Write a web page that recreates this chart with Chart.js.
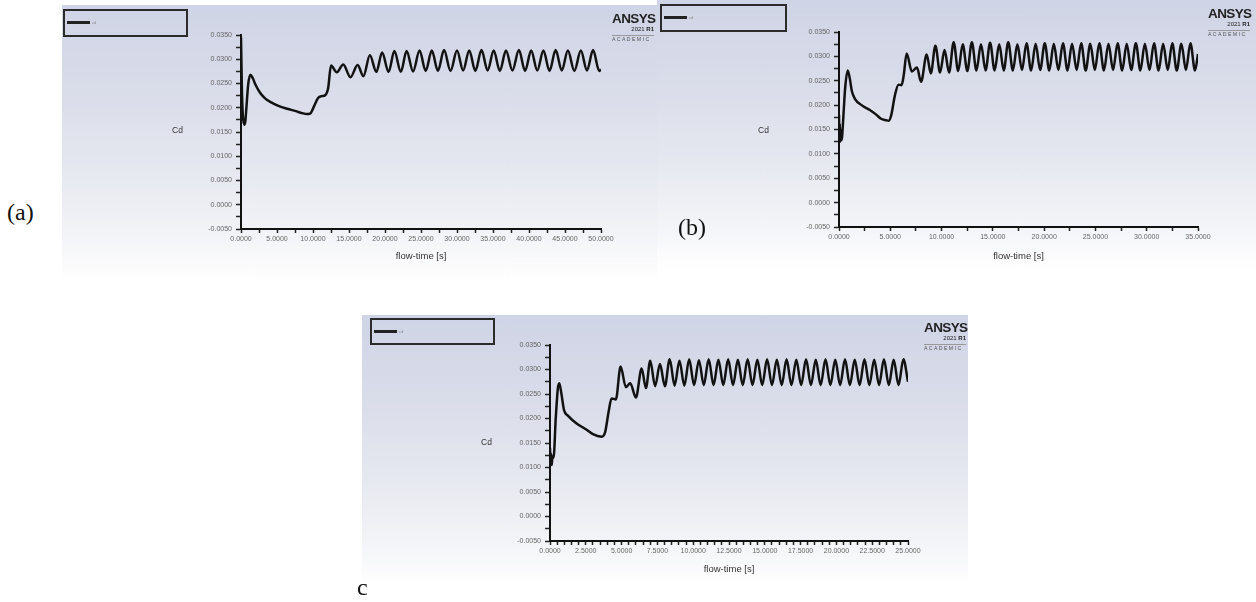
<!DOCTYPE html>
<html>
<head>
<meta charset="utf-8">
<script src="https://cdn.jsdelivr.net/npm/chart.js@4.4.0/dist/chart.umd.min.js"></script>
<style>
body { margin:0; width:1256px; height:602px; background:#fff; position:relative; overflow:hidden; font-family:"Liberation Sans", Arial, sans-serif; }
.panel { position:absolute; background:linear-gradient(to bottom, #cfd4e6 0%, #d9dce9 30%, #e6e8f0 60%, #f4f5f8 85%, #ffffff 100%); }
.panel canvas { position:absolute; left:0; top:0; }
.legend { position:absolute; border:2px solid #2b2b2b; box-sizing:border-box; }
.legend .ln { position:absolute; left:2px; top:10px; width:23px; height:3px; background:#222; }
.legend .tx { position:absolute; left:27px; top:9px; font-size:4px; color:#888; }
.logo { position:absolute; width:42px; text-align:right; color:#222; }
.logo .a { font-weight:bold; font-size:13.5px; letter-spacing:-0.6px; line-height:12px; }
.logo .r { font-size:6px; line-height:8px; }
.logo .hr { height:1px; background:#999; margin-top:2px; }
.logo .ac { font-size:5.2px; letter-spacing:1.4px; color:#555; text-align:left; line-height:7px; }
.cd { position:absolute; font-size:8.5px; color:#333; }
.tag { position:absolute; font-family:"Liberation Serif", "Times New Roman", serif; font-size:24px; color:#111; }
</style>
</head>
<body>

<div class="panel" style="left:62px;top:5px;width:595px;height:277px"><canvas id="chartA" width="595" height="277"></canvas></div>
<div class="panel" style="left:657px;top:0px;width:599px;height:270px"><canvas id="chartB" width="599" height="270"></canvas></div>
<div class="panel" style="left:362px;top:315px;width:606px;height:272px"><canvas id="chartC" width="606" height="272"></canvas></div>

<div class="legend" style="left:63px;top:9px;width:125px;height:28px"><div class="ln"></div><div class="tx">cd</div></div>
<div class="legend" style="left:660px;top:4px;width:127px;height:28px"><div class="ln"></div><div class="tx">cd</div></div>
<div class="legend" style="left:370px;top:318px;width:125px;height:27px"><div class="ln"></div><div class="tx">cd</div></div>

<div class="logo" style="left:612px;top:13px"><div class="a">ANSYS</div><div class="r">2021 <b>R1</b></div><div class="hr"></div><div class="ac">ACADEMIC</div></div>
<div class="logo" style="left:1208px;top:8px"><div class="a">ANSYS</div><div class="r">2021 <b>R1</b></div><div class="hr"></div><div class="ac">ACADEMIC</div></div>
<div class="logo" style="left:924px;top:322px"><div class="a">ANSYS</div><div class="r">2021 <b>R1</b></div><div class="hr"></div><div class="ac">ACADEMIC</div></div>

<div class="cd" style="left:172px;top:125px">Cd</div>
<div class="cd" style="left:758px;top:125px">Cd</div>
<div class="cd" style="left:481px;top:437px">Cd</div>

<div class="tag" style="left:7px;top:199px">(a)</div>
<div class="tag" style="left:678px;top:214px">(b)</div>
<div class="tag" style="left:357px;top:574px">c</div>

<script>
// (a) flow-time [s] and Cd
const flowTimeA = [0, 0.12, 0.25, 0.45, 0.6, 0.75, 1.0, 1.3, 1.6, 2.0,
  2.6, 3.3, 4.2, 5.2, 6.4, 7.6, 8.5, 9.1, 9.6, 10.2,
  10.7, 11.2, 11.7, 12.1, 12.5, 13.3, 14.2, 15.2, 16.2, 17.0,
  17.9, 18.8, 19.6, 20.5, 21.3, 22.2, 23.0, 23.9, 24.8, 25.65,
  26.5, 27.35, 28.2, 29.1, 30.0, 30.85, 31.7, 32.55, 33.4, 34.25,
  35.1, 35.95, 36.8, 37.7, 38.6, 39.45, 40.3, 41.15, 42.0, 42.85,
  43.7, 44.55, 45.4, 46.3, 47.2, 48.05, 48.9, 49.75, 50.0];
const cdA = [0.0345, 0.0240, 0.0185, 0.0165, 0.0172, 0.0200, 0.0248, 0.0268, 0.0262, 0.0248,
  0.0232, 0.0220, 0.0211, 0.0204, 0.0198, 0.0193, 0.0189, 0.0187, 0.0188, 0.0205,
  0.0220, 0.0224, 0.0226, 0.0240, 0.0287, 0.0273, 0.0289, 0.0263, 0.0288, 0.0265,
  0.0308, 0.0274, 0.0314, 0.0274, 0.0317, 0.0274, 0.0317, 0.0275, 0.0318, 0.0276,
  0.0318, 0.0276, 0.0319, 0.0276, 0.0318, 0.0277, 0.0318, 0.0276, 0.0319, 0.0277,
  0.0318, 0.0276, 0.0318, 0.0277, 0.0319, 0.0276, 0.0318, 0.0277, 0.0318, 0.0276,
  0.0319, 0.0277, 0.0318, 0.0276, 0.0318, 0.0277, 0.0319, 0.0276, 0.0279];

// (b)
const flowTimeB = [0, 0.04, 0.08, 0.12, 0.17, 0.22, 0.3, 0.45, 0.6, 0.85,
  1.05, 1.25, 1.55, 2.2, 3.0, 3.6, 4.1, 4.6, 4.85, 5.1,
  5.45, 5.8, 6.1, 6.3, 6.6, 7.1, 7.6, 8.0, 8.55, 8.95,
  9.40, 9.85, 10.29, 10.73, 11.18, 11.62, 12.06, 12.51, 12.95, 13.40,
  13.84, 14.29, 14.73, 15.17, 15.62, 16.06, 16.50, 16.95, 17.39, 17.84,
  18.28, 18.73, 19.17, 19.61, 20.06, 20.50, 20.94, 21.39, 21.83, 22.28,
  22.72, 23.17, 23.61, 24.05, 24.50, 24.94, 25.38, 25.83, 26.27, 26.72,
  27.16, 27.61, 28.05, 28.49, 28.94, 29.38, 29.82, 30.27, 30.71, 31.16,
  31.60, 32.05, 32.49, 32.93, 33.38, 33.82, 34.26, 34.71, 35.0];
const cdB = [0.0180, 0.0130, 0.0162, 0.0125, 0.0150, 0.0128, 0.0135, 0.0185, 0.0235, 0.0271,
  0.0255, 0.0229, 0.0213, 0.0200, 0.0190, 0.0181, 0.0172, 0.0169, 0.0168, 0.0180,
  0.0220, 0.0242, 0.0241, 0.0260, 0.0306, 0.0269, 0.0277, 0.0248, 0.0304, 0.0265,
  0.0322, 0.0267, 0.0313, 0.0267, 0.0329, 0.0270, 0.0325, 0.0270, 0.0329, 0.0271,
  0.0325, 0.0271, 0.0328, 0.0271, 0.0325, 0.0271, 0.0329, 0.0271, 0.0325, 0.0272,
  0.0327, 0.0271, 0.0326, 0.0272, 0.0327, 0.0271, 0.0326, 0.0272, 0.0327, 0.0271,
  0.0326, 0.0272, 0.0327, 0.0271, 0.0326, 0.0272, 0.0327, 0.0271, 0.0326, 0.0272,
  0.0327, 0.0271, 0.0326, 0.0272, 0.0327, 0.0271, 0.0326, 0.0272, 0.0327, 0.0271,
  0.0326, 0.0272, 0.0327, 0.0271, 0.0326, 0.0272, 0.0327, 0.0271, 0.0305];

// (c)
const flowTimeC = [0, 0.04, 0.08, 0.12, 0.17, 0.25, 0.4, 0.55, 0.65, 0.8,
  0.98, 1.28, 1.86, 2.56, 3.0, 3.6, 3.85, 4.1, 4.3, 4.6,
  4.93, 5.3, 5.6, 6.0, 6.4, 6.7,
  7.00, 7.34, 7.68, 8.02, 8.36, 8.70, 9.04, 9.38, 9.72, 10.06,
  10.40, 10.74, 11.08, 11.42, 11.76, 12.10, 12.44, 12.78, 13.12, 13.46,
  13.80, 14.14, 14.48, 14.82, 15.16, 15.50, 15.84, 16.18, 16.52, 16.86,
  17.20, 17.54, 17.88, 18.22, 18.56, 18.90, 19.24, 19.58, 19.92, 20.26,
  20.60, 20.94, 21.28, 21.62, 21.96, 22.30, 22.64, 22.98, 23.32, 23.66,
  24.00, 24.34, 24.68, 25.0];
const cdC = [0.0140, 0.0110, 0.0128, 0.0105, 0.0122, 0.0120, 0.0200, 0.0262, 0.0272, 0.0250,
  0.0217, 0.0205, 0.0190, 0.0177, 0.0168, 0.0163, 0.0172, 0.0215, 0.0241, 0.0239,
  0.0306, 0.0264, 0.0272, 0.0243, 0.0302, 0.0262,
  0.0318, 0.0266, 0.0311, 0.0266, 0.0321, 0.0267, 0.0318, 0.0267, 0.0321, 0.0268,
  0.0319, 0.0268, 0.0321, 0.0268, 0.0320, 0.0268, 0.0321, 0.0268, 0.0320, 0.0268,
  0.0321, 0.0268, 0.0320, 0.0268, 0.0321, 0.0268, 0.0320, 0.0268, 0.0321, 0.0268,
  0.0320, 0.0268, 0.0321, 0.0268, 0.0320, 0.0268, 0.0321, 0.0268, 0.0320, 0.0268,
  0.0321, 0.0268, 0.0320, 0.0268, 0.0321, 0.0268, 0.0320, 0.0268, 0.0321, 0.0268,
  0.0320, 0.0268, 0.0321, 0.0275];

const cdMin = -0.005, cdMax = 0.035, cdStep = 0.005;

function isMajor(v, step) {
  return Math.abs(v / step - Math.round(v / step)) < 1e-6;
}

function makeChart(id, times, values, xMax, xMinor, xMajor, pad, yW, xH) {
  var ctx = document.getElementById(id).getContext('2d');
  return new Chart(ctx, {
    type: 'line',
    data: {
      datasets: [{
        label: 'cd',
        data: times.map(function (t, i) { return { x: t, y: values[i] }; }),
        borderColor: '#121212',
        borderWidth: 2.5,
        pointRadius: 0,
        fill: false,
        cubicInterpolationMode: 'monotone'
      }]
    },
    options: {
      responsive: false,
      animation: false,
      layout: { padding: pad },
      plugins: { legend: { display: false }, tooltip: { enabled: false } },
      scales: {
        x: {
          type: 'linear', min: 0, max: xMax,
          afterFit: function (s) { s.height = xH; },
          ticks: {
            stepSize: xMinor, autoSkip: false, maxRotation: 0, padding: 2,
            font: { size: 7, family: 'Liberation Sans' }, color: '#666',
            callback: function (v) { return isMajor(v, xMajor) ? v.toFixed(4) : ''; }
          },
          grid: { drawOnChartArea: false, drawTicks: true, tickLength: 4, tickColor: '#222', tickWidth: 1.5 },
          border: { color: '#111', width: 2 },
          title: { display: true, text: 'flow-time [s]', color: '#333',
                   font: { size: 9.5, family: 'Liberation Sans' }, padding: { top: 0, bottom: 0 } }
        },
        y: {
          min: cdMin, max: cdMax,
          afterFit: function (s) { s.width = yW; },
          ticks: {
            stepSize: cdStep / 2, autoSkip: false, padding: 4,
            font: { size: 7, family: 'Liberation Sans' }, color: '#666',
            callback: function (v) { return isMajor(v, cdStep) ? v.toFixed(4) : ''; }
          },
          grid: { drawOnChartArea: false, drawTicks: true, tickLength: 5, tickColor: '#222', tickWidth: 1.5 },
          border: { color: '#111', width: 2 }
        }
      }
    }
  });
}

makeChart('chartA', flowTimeA, cdA, 50, 2.5, 5, { left: 119, right: 56, top: 30, bottom: 20 }, 60, 33);
makeChart('chartB', flowTimeB, cdB, 35, 2.5, 5, { left: 122, right: 58, top: 32, bottom: 8 }, 60, 35);
makeChart('chartC', flowTimeC, cdC, 25, 0.5, 2.5, { left: 128, right: 60, top: 30, bottom: 12 }, 60, 34);
</script>
</body>
</html>
